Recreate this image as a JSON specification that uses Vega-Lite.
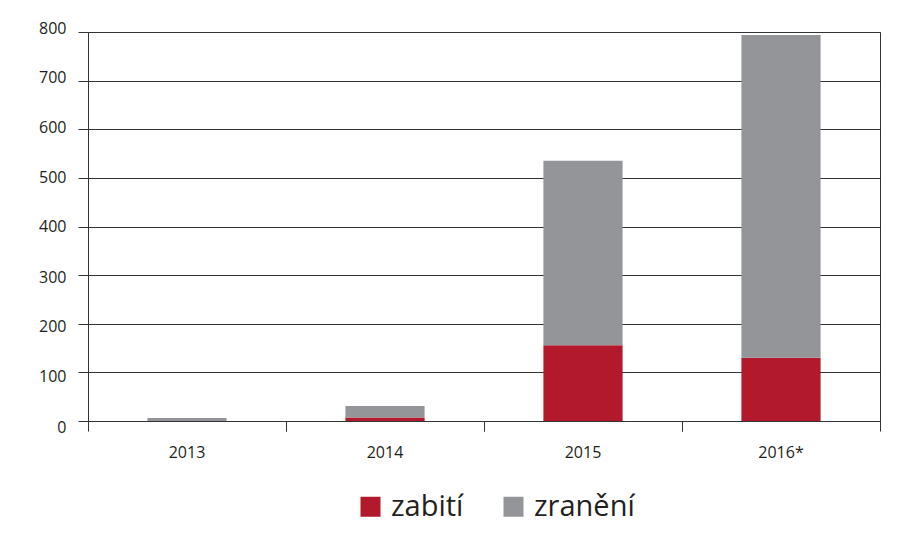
{
  "$schema": "https://vega.github.io/schema/vega-lite/v6.json",
  "width": 792,
  "height": 389,
  "autosize": "none",
  "padding": {"left": 88, "top": 32, "right": 28, "bottom": 112},
  "background": "white",
  "data": {
    "values": [
      {"year": "2013", "type": "zabití", "value": 0, "ord": 1},
      {"year": "2013", "type": "zranění", "value": 6, "ord": 2},
      {"year": "2014", "type": "zabití", "value": 7, "ord": 1},
      {"year": "2014", "type": "zranění", "value": 24, "ord": 2},
      {"year": "2015", "type": "zabití", "value": 156, "ord": 1},
      {"year": "2015", "type": "zranění", "value": 379, "ord": 2},
      {"year": "2016*", "type": "zabití", "value": 130, "ord": 1},
      {"year": "2016*", "type": "zranění", "value": 664, "ord": 2}
    ]
  },
  "layer": [
    {
      "mark": {"type": "bar"},
      "encoding": {
        "x": {
          "field": "year",
          "type": "nominal",
          "sort": null,
          "scale": {"paddingInner": 0.6, "paddingOuter": 0.3},
          "axis": {
            "title": null,
            "orient": "bottom",
            "labelAngle": 0,
            "bandPosition": -0.75,
            "tickSize": 10,
            "labelPadding": 13,
            "labelFontSize": 16
          }
        },
        "y": {
          "field": "value",
          "type": "quantitative",
          "stack": "zero",
          "scale": {"domain": [0, 800], "nice": false},
          "axis": {
            "title": null,
            "values": [0, 100, 200, 300, 400, 500, 600, 700, 800],
            "grid": true,
            "tickSize": 10,
            "labelPadding": 12,
            "labelFontSize": 16,
            "labelOffset": {
              "condition": [
                {"test": "datum.value >= 800", "value": -4},
                {"test": "datum.value >= 700", "value": -3.5},
                {"test": "datum.value >= 600", "value": -2},
                {"test": "datum.value >= 400", "value": -0.5},
                {"test": "datum.value >= 300", "value": 2.5},
                {"test": "datum.value >= 200", "value": 3},
                {"test": "datum.value >= 100", "value": 4.5}
              ],
              "value": 6.5
            }
          }
        },
        "color": {
          "field": "type",
          "type": "nominal",
          "scale": {"domain": ["zabití", "zranění"], "range": ["#B3192D", "#939598"]},
          "legend": {
            "title": null,
            "orient": "none",
            "direction": "horizontal",
            "legendX": 268,
            "legendY": 460,
            "symbolType": "square",
            "symbolSize": 400,
            "symbolStrokeWidth": 0,
            "symbolOpacity": 1,
            "labelFontSize": 29,
            "labelColor": "#231F20",
            "labelOffset": 6,
            "columnPadding": 35,
            "padding": 0
          }
        },
        "order": {"field": "ord", "type": "quantitative"}
      }
    },
    {
      "mark": {"type": "rule", "opacity": 0},
      "encoding": {
        "x": {
          "field": "year",
          "type": "nominal",
          "sort": null,
          "axis": {
            "title": null,
            "orient": "bottom",
            "labels": false,
            "domain": false,
            "bandPosition": 1.75,
            "tickSize": 10
          }
        }
      }
    }
  ],
  "resolve": {"axis": {"x": "independent"}},
  "config": {
    "font": "Open Sans",
    "view": {"stroke": "#333333", "strokeWidth": 1},
    "axis": {
      "domainColor": "#333333",
      "tickColor": "#333333",
      "gridColor": "#333333",
      "gridOpacity": 1,
      "domainWidth": 1,
      "tickWidth": 1,
      "gridWidth": 1,
      "labelColor": "#231F20",
      "labelFont": "Open Sans"
    },
    "legend": {"labelFont": "Open Sans"}
  }
}
